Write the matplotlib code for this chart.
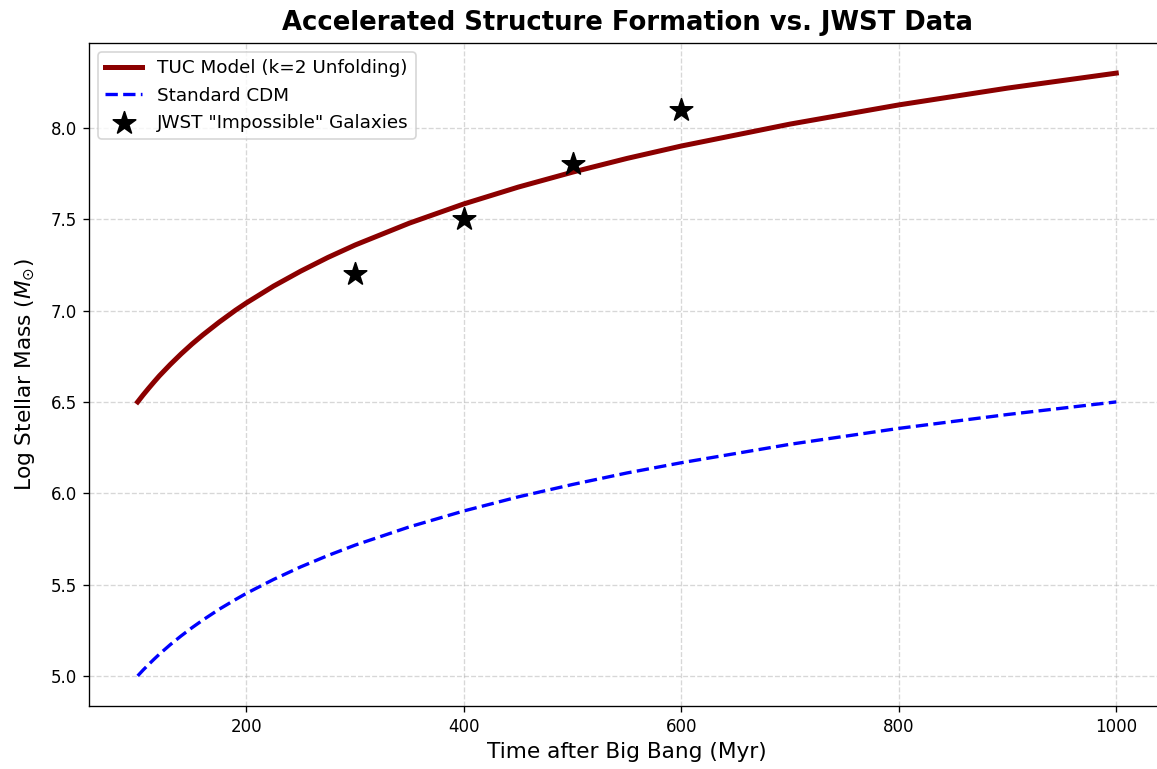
import numpy as np
import matplotlib
matplotlib.use("Agg")
import matplotlib.pyplot as plt

# values
time_myr = [100, 105, 110, 115, 120, 130, 140, 150, 160, 175, 190, 200, 225,
            250, 275, 300, 350, 400, 450, 500, 550, 600, 700, 800, 900, 1000]
tuc_mass = [6.500, 6.538, 6.574, 6.609, 6.643, 6.705, 6.763, 6.817, 6.867,
            6.937, 7.002, 7.042, 7.134, 7.216, 7.291, 7.359, 7.479, 7.584,
            7.676, 7.758, 7.833, 7.901, 8.021, 8.126, 8.218, 8.300]
cdm_mass = [5.000, 5.032, 5.062, 5.091, 5.119, 5.171, 5.219, 5.264, 5.306,
            5.365, 5.418, 5.452, 5.528, 5.597, 5.659, 5.716, 5.816, 5.903,
            5.980, 6.048, 6.111, 6.167, 6.268, 6.355, 6.431, 6.500]

jwst_time = [300, 400, 500, 600]
jwst_mass = [7.2, 7.5, 7.8, 8.1]

fig, ax = plt.subplots(figsize=(1157 / 120, 769 / 120), dpi=120)

ax.plot(time_myr, tuc_mass, color='darkred', linewidth=3, label='TUC Model (k=2 Unfolding)')
ax.plot(time_myr, cdm_mass, color='blue', linestyle='--', linewidth=2, label='Standard CDM')
ax.scatter(jwst_time, jwst_mass, color='black', marker='*', s=200, zorder=5,
           label='JWST "Impossible" Galaxies')

ax.set_xlabel('Time after Big Bang (Myr)', fontsize=13)
ax.set_ylabel(r'Log Stellar Mass ($M_{\odot}$)', fontsize=13, labelpad=8)
ax.set_title('Accelerated Structure Formation vs. JWST Data', fontsize=15.5,
             fontweight='bold', pad=8)
ax.grid(True, linestyle='--', alpha=0.5)
ax.legend(loc='upper left', fontsize=11)

# the reference is cut off just before the right spine
plt.subplots_adjust(left=0.0767, right=1.0071, top=0.9441, bottom=0.0819)
plt.savefig('out.png', dpi=120)
